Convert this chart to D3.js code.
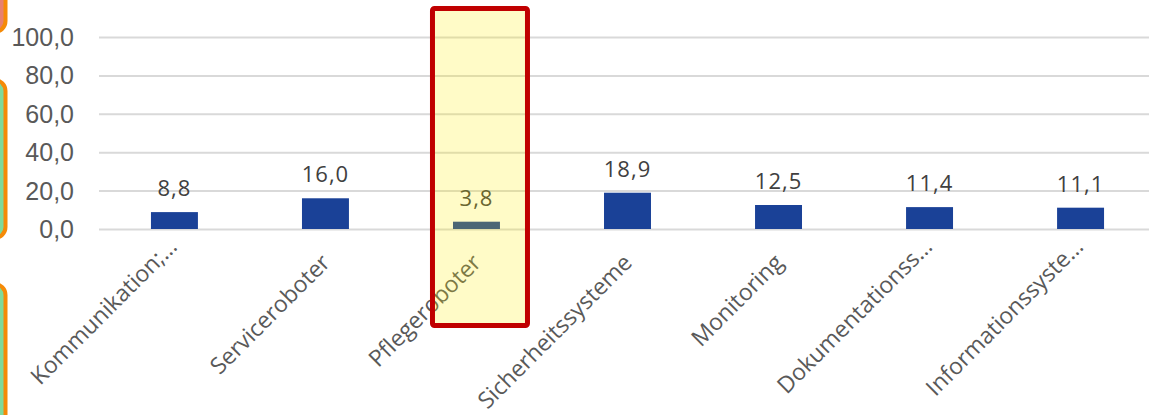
<!DOCTYPE html>
<html>
<head>
<meta charset="utf-8">
<script src="https://cdn.jsdelivr.net/npm/d3@7/dist/d3.min.js"></script>
<style>
  html, body { margin: 0; padding: 0; background: #ffffff; overflow: hidden; }
  svg { display: block; }
</style>
</head>
<body>
<svg id="chart" width="1149" height="415"></svg>
<script>
// ---- data ----
const categories = ["Kommunikation;…", "Serviceroboter", "Pflegeroboter", "Sicherheitssysteme", "Monitoring", "Dokumentationss…", "Informationssyste…"];
const values = [8.8, 16.0, 3.8, 18.9, 12.5, 11.4, 11.1];
const yTicks = [0, 20, 40, 60, 80, 100];
const highlighted = "Pflegeroboter";

// ---- layout ----
const W = 1149, H = 415;
const svg = d3.select("#chart");
const plotLeft = 99, plotRight = 1156, plotTop = 37, plotBottom = 229;

const x = d3.scaleBand().domain(categories).range([plotLeft, plotRight])
  .paddingInner(0.689).paddingOuter(0.344);
const y = d3.scaleLinear().domain([0, 100]).range([plotBottom, plotTop]);
const fmt = v => d3.format(".1f")(v).replace(".", ",");

// left side decorations (slide elements cropped at edge)
const deco = svg.append("g");
[[-40, 32, "#e8806e"], [80, 238, "#7fd99b"], [284, 470, "#7fd99b"]].forEach(([t, b, c]) => {
  deco.append("rect").attr("x", -40).attr("y", t).attr("width", 45.5).attr("height", b - t)
    .attr("rx", 11).attr("fill", c).attr("stroke", "#f58a07").attr("stroke-width", 4);
});

// gridlines + y tick labels
const yAxis = d3.axisLeft(y).tickValues(yTicks).tickFormat(fmt).tickSize(-(W - plotLeft + 10)).tickPadding(25);
const gy = svg.append("g").attr("transform", `translate(${plotLeft},0)`).call(yAxis);
gy.select(".domain").remove();
gy.selectAll(".tick line").attr("stroke", "#d9d9d9").attr("stroke-width", 2);
gy.selectAll(".tick text")
  .attr("font-family", "'Liberation Sans', Arial, sans-serif")
  .attr("font-size", 25).attr("fill", "#595959")
  .attr("dy", "0.34em");

// bars
svg.append("g").selectAll("rect").data(categories).join("rect")
  .attr("x", d => x(d))
  .attr("width", x.bandwidth())
  .attr("y", (d, i) => y(values[i]))
  .attr("height", (d, i) => y(0) - y(values[i]))
  .attr("fill", "#1a4197");

// data labels
svg.append("g").selectAll("text").data(categories).join("text")
  .attr("x", d => x(d) + x.bandwidth() / 2)
  .attr("y", (d, i) => y(values[i]) - 16)
  .attr("text-anchor", "middle")
  .attr("font-family", "'Open Sans', sans-serif")
  .attr("font-size", 22).attr("letter-spacing", 1)
  .attr("fill", "#404040")
  .text((d, i) => fmt(values[i]));

// category labels, rotated; truncated labels sit higher (Excel layout)
svg.append("g").selectAll("text").data(categories).join("text")
  .attr("transform", d => {
    const trunc = d.endsWith("…");
    const cx = x(d) + x.bandwidth() / 2 + (trunc ? 4 : 6);
    const cy = plotBottom + (trunc ? 19 : 35);
    return `translate(${cx},${cy}) rotate(-45)`;
  })
  .attr("text-anchor", "end")
  .attr("font-family", "'Open Sans', sans-serif")
  .attr("font-size", 23)
  .attr("fill", "#595959")
  .text(d => d);

// highlight box
const hc = x(highlighted) + x.bandwidth() / 2 + 3.5;
svg.append("rect")
  .attr("x", hc - 47.5).attr("y", 8.5).attr("width", 95).attr("height", 317)
  .attr("fill", "rgba(255,236,0,0.22)");
svg.append("rect")
  .attr("x", hc - 47.5).attr("y", 8.5).attr("width", 95).attr("height", 317)
  .attr("rx", 2)
  .attr("fill", "none").attr("stroke", "#c00000").attr("stroke-width", 5);
</script>
</body>
</html>
